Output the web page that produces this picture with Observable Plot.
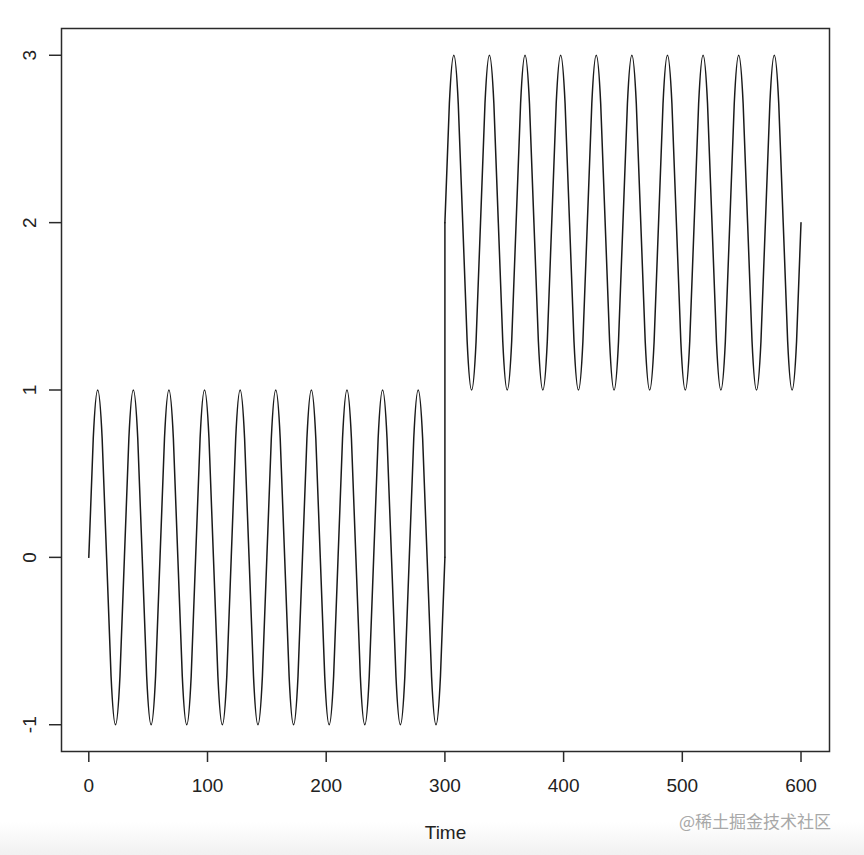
<!DOCTYPE html>
<html>
<head>
<meta charset="utf-8">
<script src="https://cdn.jsdelivr.net/npm/d3@7"></script>
<script src="https://cdn.jsdelivr.net/npm/@observablehq/plot@0.6"></script>
<style>
  html, body { margin: 0; padding: 0; background: #fff; }
  #wrap { position: relative; width: 864px; height: 855px; overflow: hidden; }
  #shade { position: absolute; left: 0; top: 822px; width: 864px; height: 33px;
           background: linear-gradient(#ffffff, #f1f1f1); }
  #chart { position: absolute; left: 0; top: 0; }
  #mark { position: absolute; left: 679px; top: 808px; font-family: "Noto Sans CJK SC", sans-serif;
          font-size: 17px; color: #a8a8a8; letter-spacing: 0px; }
</style>
</head>
<body>
<div id="wrap"><div id="shade"></div><div id="chart"></div><div id="mark">@稀土掘金技术社区</div></div>
<script>
// Segment 1: Time 0..300 (wave around 0)
const time1 = [
  0,3.75,7.5,11.25,15,18.75,22.5,26.25,
  30,33.75,37.5,41.25,45,48.75,52.5,56.25,
  60,63.75,67.5,71.25,75,78.75,82.5,86.25,
  90,93.75,97.5,101.25,105,108.75,112.5,116.25,
  120,123.75,127.5,131.25,135,138.75,142.5,146.25,
  150,153.75,157.5,161.25,165,168.75,172.5,176.25,
  180,183.75,187.5,191.25,195,198.75,202.5,206.25,
  210,213.75,217.5,221.25,225,228.75,232.5,236.25,
  240,243.75,247.5,251.25,255,258.75,262.5,266.25,
  270,273.75,277.5,281.25,285,288.75,292.5,296.25,
  300
];
const value1 = [
  0,0.71,1,0.71,0,-0.71,-1,-0.71,
  0,0.71,1,0.71,0,-0.71,-1,-0.71,
  0,0.71,1,0.71,0,-0.71,-1,-0.71,
  0,0.71,1,0.71,0,-0.71,-1,-0.71,
  0,0.71,1,0.71,0,-0.71,-1,-0.71,
  0,0.71,1,0.71,0,-0.71,-1,-0.71,
  0,0.71,1,0.71,0,-0.71,-1,-0.71,
  0,0.71,1,0.71,0,-0.71,-1,-0.71,
  0,0.71,1,0.71,0,-0.71,-1,-0.71,
  0,0.71,1,0.71,0,-0.71,-1,-0.71,
  0
];
// Jump at Time 300
const timeJump = [300, 300];
const valueJump = [0, 2];
// Segment 2: Time 300..600 (wave around 2)
const time2 = [
  300,303.75,307.5,311.25,315,318.75,322.5,326.25,
  330,333.75,337.5,341.25,345,348.75,352.5,356.25,
  360,363.75,367.5,371.25,375,378.75,382.5,386.25,
  390,393.75,397.5,401.25,405,408.75,412.5,416.25,
  420,423.75,427.5,431.25,435,438.75,442.5,446.25,
  450,453.75,457.5,461.25,465,468.75,472.5,476.25,
  480,483.75,487.5,491.25,495,498.75,502.5,506.25,
  510,513.75,517.5,521.25,525,528.75,532.5,536.25,
  540,543.75,547.5,551.25,555,558.75,562.5,566.25,
  570,573.75,577.5,581.25,585,588.75,592.5,596.25,
  600
];
const value2 = [
  2,2.71,3,2.71,2,1.29,1,1.29,
  2,2.71,3,2.71,2,1.29,1,1.29,
  2,2.71,3,2.71,2,1.29,1,1.29,
  2,2.71,3,2.71,2,1.29,1,1.29,
  2,2.71,3,2.71,2,1.29,1,1.29,
  2,2.71,3,2.71,2,1.29,1,1.29,
  2,2.71,3,2.71,2,1.29,1,1.29,
  2,2.71,3,2.71,2,1.29,1,1.29,
  2,2.71,3,2.71,2,1.29,1,1.29,
  2,2.71,3,2.71,2,1.29,1,1.29,
  2
];
const xTicks = [0, 100, 200, 300, 400, 500, 600];
const yTicks = [-1, 0, 1, 2, 3];
const xLabel = "Time";

const rows = [
  ...time1.map((t, i) => ({time: t, value: value1[i], seg: "a"})),
  ...timeJump.map((t, i) => ({time: t, value: valueJump[i], seg: "jump"})),
  ...time2.map((t, i) => ({time: t, value: value2[i], seg: "b"}))
];

const font = '"Liberation Sans", Arial, Helvetica, sans-serif';

const chart = Plot.plot({
  width: 864,
  height: 855,
  marginLeft: 61,
  marginRight: 35,
  marginTop: 28,
  marginBottom: 104,
  style: {fontFamily: font, fontSize: "19px", color: "#222", background: "transparent"},
  x: {domain: [-23, 624], label: null},
  y: {domain: [-1.16, 3.16], label: null},
  marks: [
    Plot.frame({stroke: "#2a2a2a", strokeWidth: 1.5}),
    Plot.axisX({ticks: xTicks, tickSize: 11, tickPadding: 16, tickFormat: d => String(d),
                stroke: "#2a2a2a", strokeWidth: 1.5, fontSize: 19,
                label: xLabel, labelAnchor: "center", labelOffset: 87, labelArrow: "none"}),
    Plot.axisY({ticks: yTicks, tickSize: 12, tickPadding: 14, tickRotate: -90,
                tickFormat: d => String(d), stroke: "#2a2a2a", strokeWidth: 1.5, fontSize: 19, label: null}),
    Plot.line(rows, {x: "time", y: "value", z: "seg", curve: "natural", stroke: "#1a1a1a", strokeWidth: 1.5})
  ]
});
document.getElementById("chart").append(chart);
</script>
</body>
</html>
